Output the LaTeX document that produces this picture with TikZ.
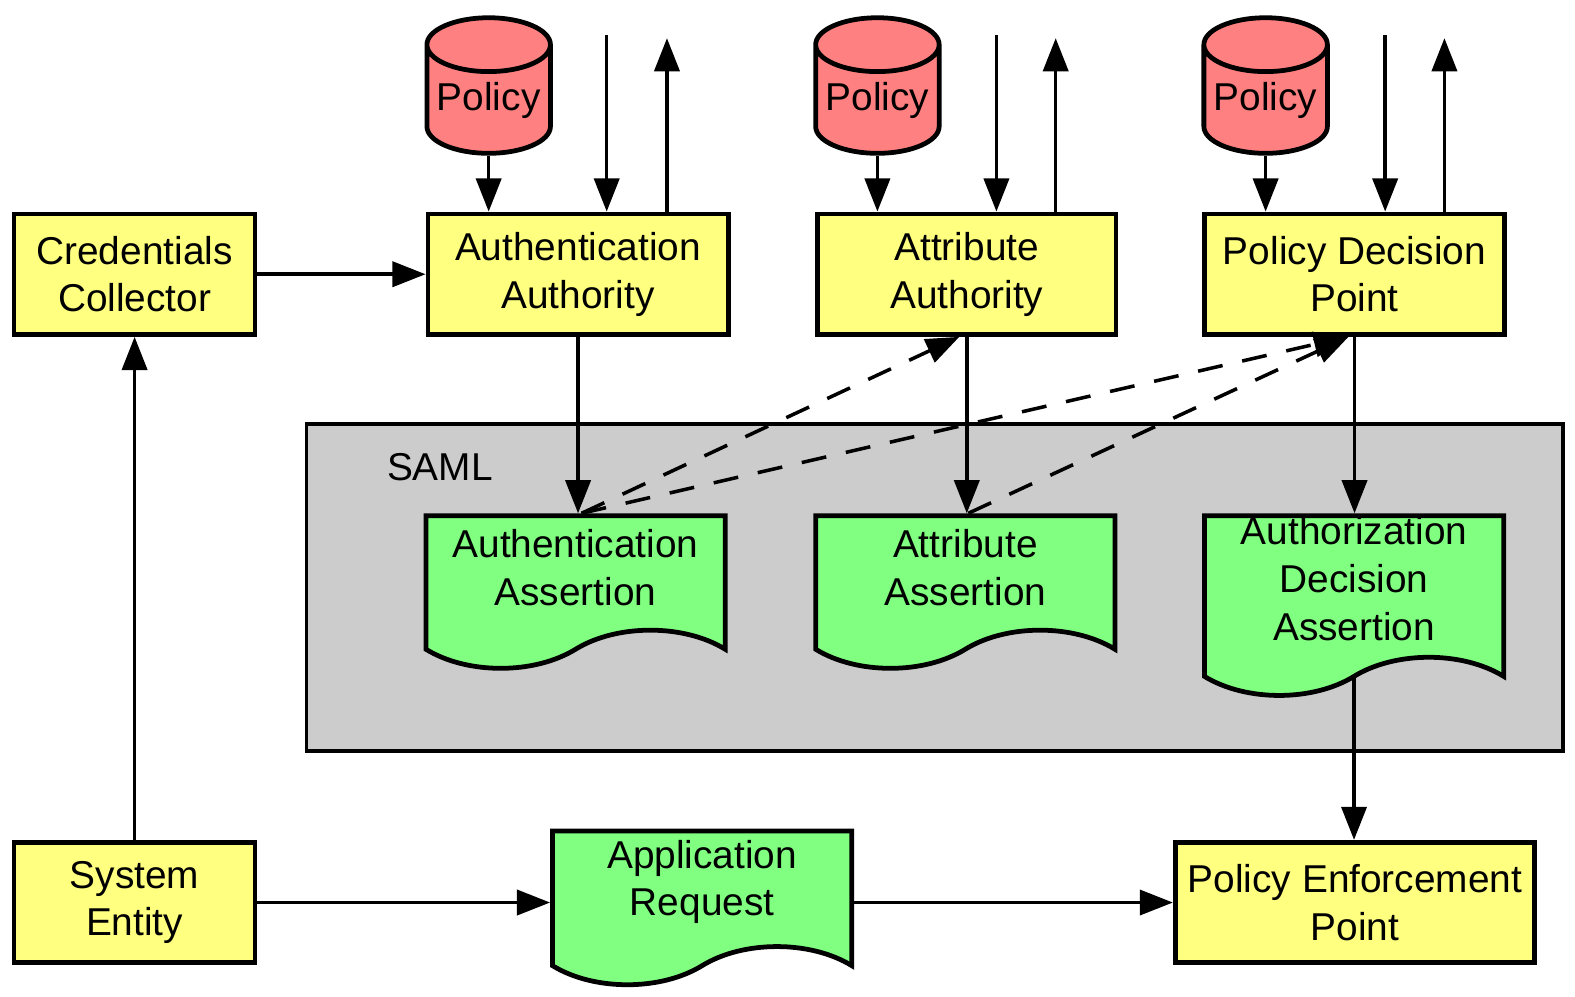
\documentclass[tikz,border=0pt]{standalone}
\usepackage{fontspec}
\setmainfont{Liberation Sans}
\usetikzlibrary{arrows.meta,positioning,shapes.geometric,shapes.symbols}
\definecolor{boxyellow}{HTML}{FFFF80}
\definecolor{docgreen}{HTML}{80FF80}
\definecolor{policyred}{HTML}{FF8080}
\definecolor{samlgray}{HTML}{CCCCCC}
\tikzset{%
	entity/.style  = {draw, line width=2.7pt, fill=boxyellow, rectangle, minimum height=2.4cm, align=center, inner sep=0pt},
	message/.style = {draw, line width=2.7pt, fill=docgreen, tape, tape bend top=none, tape bend bottom=in and out, tape bend height=0.76cm, minimum width=5.96cm, inner sep=0pt},
	doctext/.style = {align=center, inner sep=0pt},
	policy/.style  = {draw, line width=2.7pt, fill=policyred, cylinder, shape border rotate=90, aspect=0.52, minimum width=2.46cm, minimum height=2.7cm, inner sep=0pt},
	saml/.style    = {draw, line width=2.2pt, fill=samlgray, rectangle, minimum width=25.02cm, minimum height=6.52cm},
	arrow/.style   = {line width=2pt, -{Triangle[length=0.66cm,width=0.5cm]}},
	ask/.style     = {arrow, dash pattern=on 0.5cm off 0.4cm},
}
\begin{document}
\begin{tikzpicture}[x=0.02cm, y=-0.02cm, font=\fontsize{22}{27}\selectfont]
	\useasboundingbox (0,0) rectangle (1568,992);
	
	% SAML area
	\node[saml] (saml) at (930.5,585) {};
	\node[anchor=west, inner sep=0pt] (samlLabel) at (385,465) {SAML};
	
	% authorities
	\node[entity, minimum width=4.8cm] (collector) at (134,273) {Credentials\\Collector};
	\node[entity, minimum width=5.98cm] (authnAuth) at (575.5,273) {Authentication\\Authority};
	\node[entity, minimum width=5.94cm] (attrAuth) at (962.5,273) {Attribute\\Authority};
	\node[entity, minimum width=5.98cm] (pdp) at (1348.5,273) {Policy Decision\\Point};
	\node[entity, minimum width=4.8cm] (sysEntity) at (134,898.5) {System\\Entity};
	\node[entity, minimum width=7.16cm] (pep) at (1349,898.5) {Policy Enforcement\\Point};
	
	% policy stores
	\node[policy, anchor=south] (policyA) at (486.5,155) {Policy};
	\node[policy, anchor=south] (policyB) at (873.5,155) {Policy};
	\node[policy, anchor=south] (policyC) at (1260,155) {Policy};
	
	% assertions
	\node[message, anchor=north, minimum height=3.04cm] (authnAssert) at (573,511) {};
	\node[doctext] (authnAssertText) at (573,565) {Authentication\\Assertion};
	\node[message, anchor=north, minimum height=3.04cm] (attrAssert) at (961,511) {};
	\node[doctext] (attrAssertText) at (961,565) {Attribute\\Assertion};
	\node[message, anchor=north, minimum height=3.58cm] (authzAssert) at (1348,511) {};
	\node[doctext] (authzAssertText) at (1348,576) {Authorization\\Decision\\Assertion};
	\node[message, anchor=north, minimum height=3.06cm] (appRequest) at (699,825) {};
	\node[doctext] (appRequestText) at (699,878) {Application\\Request};
	
	% free ends
	\coordinate (authnIn) at (604,35);
	\coordinate (authnOut) at (664,38);
	\coordinate (attrIn) at (992,35);
	\coordinate (attrOut) at (1051,38);
	\coordinate (pdpIn) at (1379,35);
	\coordinate (pdpOut) at (1438,38);
	
	\draw[arrow] (policyA.south) -- (policyA.south |- authnAuth.north);
	\draw[arrow] (authnIn) -- (authnIn |- authnAuth.north);
	\draw[arrow] (authnOut |- authnAuth.north) -- (authnOut);
	\draw[arrow] (policyB.south) -- (policyB.south |- attrAuth.north);
	\draw[arrow] (attrIn) -- (attrIn |- attrAuth.north);
	\draw[arrow] (attrOut |- attrAuth.north) -- (attrOut);
	\draw[arrow] (policyC.south) -- (policyC.south |- pdp.north);
	\draw[arrow] (pdpIn) -- (pdpIn |- pdp.north);
	\draw[arrow] (pdpOut |- pdp.north) -- (pdpOut);
	
	\draw[arrow] (collector.east) -- (authnAuth.west);
	\draw[arrow] (sysEntity.north) -- (collector.south);
	\draw[arrow] (sysEntity.east) -- (sysEntity.east -| appRequest.west);
	\draw[arrow] (pep.west -| appRequest.east) -- (pep.west);
	
	\draw[arrow] (authnAuth.south) -- (authnAuth.south |- authnAssert.north);
	\draw[arrow] (attrAuth.south) -- (attrAuth.south |- attrAssert.north);
	\draw[arrow] (pdp.south) -- (pdp.south |- authzAssert.north);
	\draw[arrow] ([yshift=-0.3cm]authzAssert.south) -- (authzAssert.south |- pep.north);
	
	% requests between authorities
	\draw[ask] ([xshift=0.12cm]authnAssert.north) -- ([xshift=-0.15cm]attrAuth.south);
	\draw[ask] ([xshift=0.12cm]authnAssert.north) -- ([xshift=-0.15cm]pdp.south);
	\draw[ask] ([xshift=0.06cm]attrAssert.north) -- ([xshift=-0.12cm]pdp.south);
\end{tikzpicture}
\end{document}
